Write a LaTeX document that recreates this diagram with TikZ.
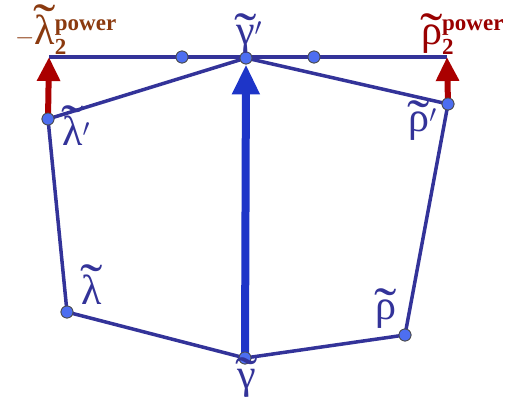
\documentclass[tikz,border=0pt]{standalone}
\usepackage{amsmath}
\usepackage{fontspec}
\setmainfont{Liberation Serif}
\usetikzlibrary{positioning,arrows.meta}

\definecolor{navy}{HTML}{333399}
\definecolor{dotblue}{HTML}{4D6EF0}
\definecolor{arrowblue}{HTML}{1E35C8}
\definecolor{arrowred}{HTML}{AA0000}
\definecolor{brownlab}{HTML}{8B3A0F}
\definecolor{redlab}{HTML}{990000}

% letter with a wide tilde on top; optional arg raises the tilde
\newcommand{\tld}[2][-6pt]{\leavevmode\ooalign{#2\cr\hidewidth\raisebox{#1}{\scalebox{1.6}[1.3]{\char"02DC}}\hidewidth\cr}}
\newcommand{\smallbf}[1]{\mbox{\fontsize{23}{23}\selectfont\bfseries #1}}
\newcommand{\powsup}{$^{\smallbf{power}}_{\smallbf{2}}$}

\tikzset{
  pt/.style={circle, draw=black!70, fill=dotblue, line width=0.8pt, minimum size=12pt, inner sep=0pt},
  edge/.style={navy, line width=3.5pt},
  lab/.style={navy, font=\fontsize{42}{44}\selectfont, inner sep=0pt},
  powlab/.style={font=\fontsize{42}{44}\selectfont, inner sep=0pt},
}

\begin{document}
\begin{tikzpicture}[x=1pt, y=-1pt, node distance=2pt]
    \useasboundingbox (0,0) rectangle (520,416);
    % points
    \coordinate (tl) at (49,57);
    \coordinate (tr) at (447,57);
    \node (gp) [pt] at (246,58) {};
    \node (m1) [pt] at (182,57) {};
    \node (m2) [pt] at (314,57) {};
    \node (lp) [pt] at (48,119) {};
    \node (rp) [pt] at (448,104) {};
    \node (l) [pt] at (67,312) {};
    \node (g) [pt] at (245,358) {};
    \node (r) [pt] at (405,335) {};

    % polygon
    \draw [edge] (tl) -- (tr);
    \draw [edge] (lp.center) -- (gp.center) -- (rp.center) -- (r.center) -- (g.center) -- (l.center) -- cycle;

    % arrows
    \draw [arrowblue, line width=8pt, -{Triangle[width=26pt, length=30pt]}] (g.center) -- (gp.south);
    \draw [arrowred, line width=6pt, -{Triangle[width=22pt, length=24pt]}] (lp.center) -- (tl);
    \draw [arrowred, line width=6pt, -{Triangle[width=22pt, length=24pt]}] (rp.center) -- (tr);

    % dots on top
    \foreach \p in {gp,m1,m2,lp,rp,l,g,r}
        \node [pt] at (\p) {};

    % labels
    \node (gplab) [lab, above=1pt of gp, xshift=3pt] {\tld{γ}$'$};
    \node (lplab) [lab, anchor=north west] at (62,116) {\tld[3pt]{λ}$'$};
    \node (rplab) [lab, anchor=north east] at (437,108) {\tld{ρ}$'$};
    \node (llab) [lab] at (92,290) {\tld[3pt]{λ}};
    \node (rlab) [lab] at (386,313) {\tld{ρ}};
    \node (glab) [lab, below=5pt of g, xshift=2pt] {\tld{γ}};
    \node (tllab) [powlab, brownlab, anchor=south west] at (15,55) {$\mathbf{-}$\tld[3pt]{λ}\powsup};
    \node (trlab) [powlab, redlab, anchor=south west] at (421,55) {\tld{ρ}\powsup};
\end{tikzpicture}
\end{document}
